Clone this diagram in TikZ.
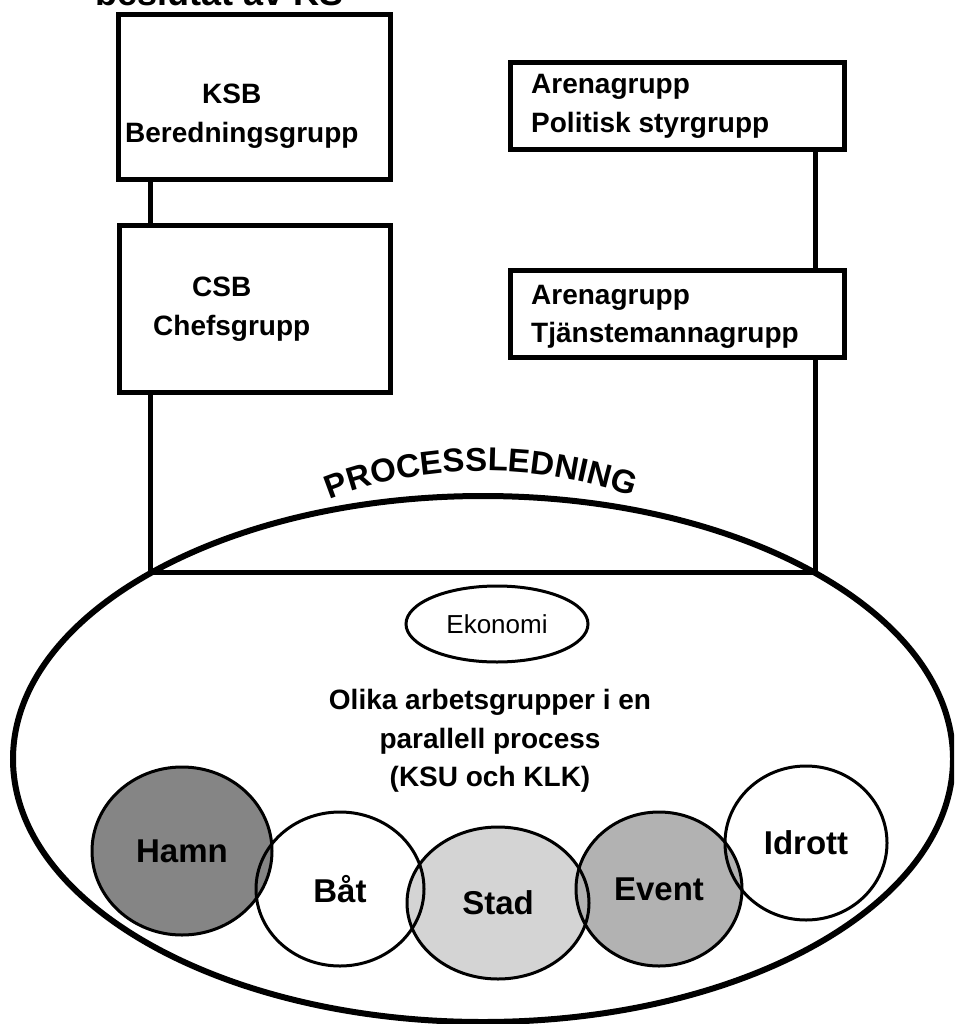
\documentclass[tikz,border=0pt]{standalone}
\usepackage{fontspec}
\setmainfont{Liberation Sans}
\usepackage{tikz}
\usetikzlibrary{shapes.geometric, decorations.text}
\newcommand{\grpfont}{\fontsize{28}{38.5}\selectfont\bfseries}
\newcommand{\bubblefont}{\fontsize{33}{36}\selectfont\bfseries}
\newcommand{\procfont}{\fontsize{33}{36}\selectfont\bfseries}
\newcommand{\ekfont}{\fontsize{26}{28}\selectfont}
\newcommand{\titlefont}{\fontsize{36}{40}\selectfont\bfseries}
\tikzstyle{grpbox} = [rectangle, draw=black, line width=5pt, inner sep=0pt, outer sep=0pt]
\tikzstyle{grptext} = [font=\grpfont, align=left, inner sep=0pt, anchor=west]
\tikzstyle{link} = [line width=5pt]
\tikzstyle{process} = [ellipse, draw=black, line width=6pt, minimum width=940pt, minimum height=526pt, inner sep=0pt]
\tikzstyle{bubble} = [ellipse, inner sep=0pt, font=\bubblefont]
\tikzstyle{ring} = [draw=black, line width=3pt]
\begin{document}
\begin{tikzpicture}[x=1pt, y=-1pt]
  \useasboundingbox (0,0) rectangle (954,1024);
  \clip (0,0) rectangle (954,1024);
  \node (title) [anchor=base west, font=\titlefont] at (92,6) {beslutat av KS};
  % KSB / CSB
  \node (ksb) [grpbox, minimum width=272pt, minimum height=165pt] at (254,97.5) {};
  \node (ksb text) [grptext] at (125,116) {\hspace*{77pt}KSB\\Beredningsgrupp};
  \node (csb) [grpbox, minimum width=271pt, minimum height=166pt] at (254.5,309) {};
  \node (csb text) [grptext] at (153,309) {\hspace*{39pt}CSB\\Chefsgrupp};
  % arenagrupper
  \node (arena pol) [grpbox, minimum width=334pt, minimum height=87pt] at (677,106.5) {};
  \node (arena pol text) [grptext] at (531,106.5) {Arenagrupp\\Politisk styrgrupp};
  \node (arena tj) [grpbox, minimum width=334pt, minimum height=87pt] at (677,313.5) {};
  \node (arena tj text) [grptext] at (531,317) {Arenagrupp\\Tjänstemannagrupp};
  % processledning
  \node (process) [process] at (483,759) {};
  \coordinate (chord left) at (150,572);
  \coordinate (chord right) at (815,572);
  \draw[link] ([xshift=32pt]ksb.south west) -- ([xshift=31pt]csb.north west);
  \draw[link] ([xshift=-29pt]arena pol.south east) -- ([xshift=-29pt]arena tj.north east);
  \draw[link] ([xshift=31pt]csb.south west) -- (chord left) -- (chord right) -- ([xshift=-29pt]arena tj.south east);
  \path[decorate, decoration={text along path, text align=center,
      text={|\procfont|PROCESSLEDNING}}]
    (315,506) .. controls (415,460) and (545,460) .. (648,502);
  \node (ekonomi) [ellipse, draw, line width=3pt, minimum width=182pt, minimum height=76pt, inner sep=0pt, font=\ekfont] at (497,624) {Ekonomi};
  \node (groups) [align=center, font=\grpfont] at (490,741) {Olika arbetsgrupper i en\\parallell process\\(KSU och KLK)};
  % arbetsgrupper
  \foreach \name/\px/\py/\dx/\dy/\shade/\word in {
      bat/340/889/168/154/white/Båt,
      idrott/806/843/162/154/white/Idrott,
      hamn/182/851/180/168/black!48/Hamn,
      stad/498/903/182/152/black!17/Stad,
      event/659/889/166/154/black!30/Event}
    \node (\name) [bubble, fill=\shade, minimum width=\dx pt, minimum height=\dy pt] at (\px,\py) {\word};
  \foreach \name/\rx/\ry in {bat/84/77, idrott/81/77, hamn/90/84, stad/91/76, event/83/77}
    \draw[ring] (\name.center) ellipse [x radius=\rx pt, y radius=\ry pt];
\end{tikzpicture}
\end{document}
